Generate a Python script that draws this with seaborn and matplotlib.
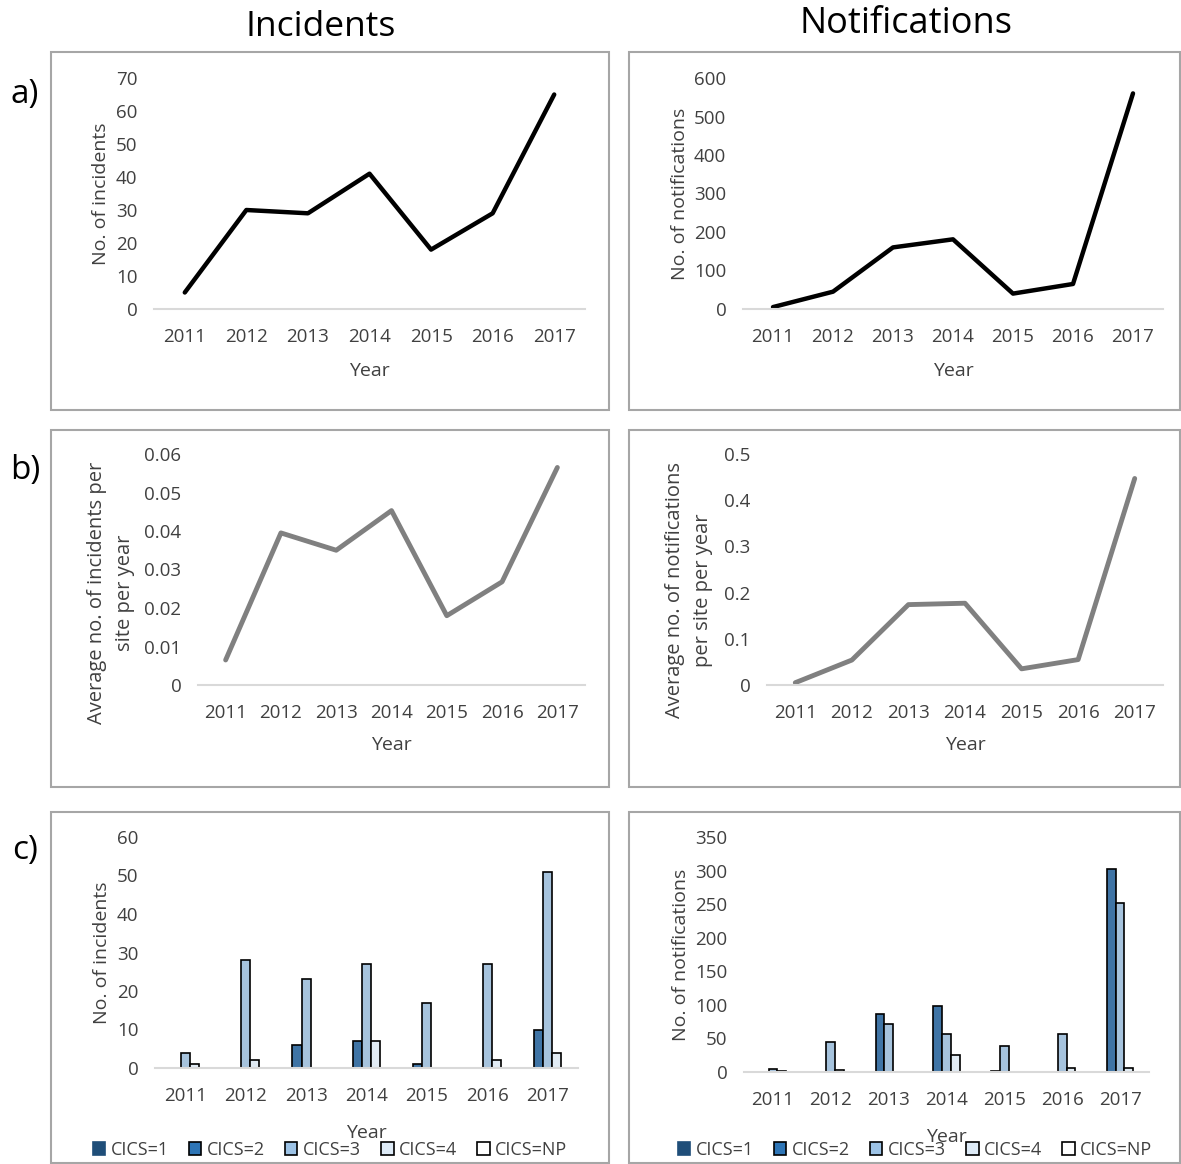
import numpy as np
import pandas as pd
import matplotlib
matplotlib.use('Agg')
import matplotlib.pyplot as plt
from matplotlib.patches import Rectangle, Patch
from matplotlib.ticker import FuncFormatter
import seaborn as sns

# Data
years = ['2011', '2012', '2013', '2014', '2015', '2016', '2017']

incidents = [5, 30, 29, 41, 18, 29, 65]
notifications = [5, 45, 160, 181, 40, 65, 560]

avg_incidents = [0.0065, 0.0395, 0.035, 0.0453, 0.018, 0.0268, 0.0565]
avg_notifications = [0.005, 0.054, 0.174, 0.177, 0.035, 0.055, 0.447]

cics_levels = ['CICS=1', 'CICS=2', 'CICS=3', 'CICS=4', 'CICS=NP']
inc_cics1 = [0, 0, 0, 0, 0, 0, 0]
inc_cics2 = [0, 0, 6, 7, 1, 0, 10]
inc_cics3 = [4, 28, 23, 27, 17, 27, 51]
inc_cics4 = [1, 2, 0, 7, 0, 2, 4]
inc_cicsnp = [0, 0, 0, 0, 0, 0, 0]

not_cics1 = [0, 0, 0, 0, 0, 0, 0]
not_cics2 = [0, 0, 87, 99, 1, 0, 303]
not_cics3 = [5, 44, 72, 57, 39, 57, 252]
not_cics4 = [2, 3, 0, 26, 0, 6, 6]
not_cicsnp = [0, 0, 0, 0, 0, 0, 0]

cics_colors = ['#1F4E79', '#2E75B6', '#9DC3E6', '#DEEBF7', '#FFFFFF']

TXT = '#404040'

sns.set_theme(style='white')
plt.rcParams['font.family'] = ['Open Sans', 'DejaVu Sans']

fig = plt.figure(figsize=(11.81, 11.64), dpi=100)
W, H = 1181, 1164


def px_axes(x0, x1, ytop, ybot):
    return fig.add_axes([x0 / W, 1 - ybot / H, (x1 - x0) / W, (ybot - ytop) / H])


def fmt(v, pos):
    return f'{v:g}'


def style_axis(ax, ylim, step, ylabel, xpad=14, lpad=11, ylsize=14):
    ax.set_xlim(-0.5, 6.5)
    ax.set_ylim(*ylim)
    ax.set_yticks(np.arange(ylim[0], ylim[1] + step / 2, step))
    ax.yaxis.set_major_formatter(FuncFormatter(fmt))
    for s in ['top', 'right', 'left']:
        ax.spines[s].set_visible(False)
    ax.spines['bottom'].set_color('#d9d9d9')
    ax.spines['bottom'].set_linewidth(1.5)
    ax.tick_params(axis='both', length=0, labelsize=13.5, colors=TXT)
    ax.tick_params(axis='x', pad=xpad)
    ax.tick_params(axis='y', pad=12)
    ax.set_ylabel(ylabel, fontsize=ylsize, color=TXT, linespacing=1.5)
    ax.set_xlabel('Year', fontsize=14, color=TXT, labelpad=lpad)
    ax.set_facecolor('none')


line_df = pd.DataFrame({'Year': years, 'incidents': incidents,
                        'notifications': notifications,
                        'avg_inc': avg_incidents, 'avg_not': avg_notifications})

# panel frames
for (x0, x1) in [(51, 609), (629, 1180)]:
    for (y0, y1) in [(52, 410), (430, 787), (812, 1163)]:
        fig.patches.append(Rectangle((x0 / W, 1 - y1 / H), (x1 - x0) / W, (y1 - y0) / H,
                                     transform=fig.transFigure, fill=False,
                                     edgecolor='#a6a6a6', lw=1.5))

# a) totals
ax = px_axes(154, 585, 78, 309)
sns.lineplot(data=line_df, x='Year', y='incidents', color='black', lw=3.2, ax=ax)
style_axis(ax, (0, 70), 10, 'No. of incidents')

ax = px_axes(743, 1163, 78, 309)
sns.lineplot(data=line_df, x='Year', y='notifications', color='black', lw=3.2, ax=ax)
style_axis(ax, (0, 600), 100, 'No. of notifications')

# b) averages
ax = px_axes(198, 585, 454, 685)
sns.lineplot(data=line_df, x='Year', y='avg_inc', color='#808080', lw=3.5, ax=ax)
style_axis(ax, (0, 0.06), 0.01, 'Average no. of incidents per\nsite per year',
           xpad=13.5, lpad=10, ylsize=14.5)
ax.yaxis.set_label_coords(-0.163, 0.40)

ax = px_axes(767, 1163, 454, 685)
sns.lineplot(data=line_df, x='Year', y='avg_not', color='#808080', lw=3.5, ax=ax)
style_axis(ax, (0, 0.5), 0.1, 'Average no. of notifications\nper site per year',
           xpad=13.5, lpad=10, ylsize=14.5)
ax.yaxis.set_label_coords(-0.137, 0.41)


# c) by CICS
def long_df(series):
    rows = []
    for lvl, vals in zip(cics_levels, series):
        for y, v in zip(years, vals):
            rows.append({'Year': y, 'CICS': lvl, 'value': v})
    return pd.DataFrame(rows)


inc_df = long_df([inc_cics1, inc_cics2, inc_cics3, inc_cics4, inc_cicsnp])
not_df = long_df([not_cics1, not_cics2, not_cics3, not_cics4, not_cicsnp])

handles = [Patch(facecolor=c, edgecolor='black' if i else c, lw=1.2, label=l)
           for i, (c, l) in enumerate(zip(cics_colors, cics_levels))]

for df, box, ylim, step, ylab, legx in [
        (inc_df, (155, 578, 837, 1068), (0, 60), 10, 'No. of incidents', 330),
        (not_df, (744, 1149, 837, 1072), (0, 350), 50, 'No. of notifications', 915)]:
    ax = px_axes(*box)
    sns.barplot(data=df, x='Year', y='value', hue='CICS', hue_order=cics_levels,
                palette=cics_colors, width=0.75, edgecolor='black', linewidth=1.2,
                legend=False, ax=ax)
    # hide outlines of zero-height bars
    for p in ax.patches:
        if p.get_height() == 0:
            p.set_visible(False)
    style_axis(ax, ylim, step, ylab, xpad=14, lpad=13)
    fig.legend(handles=handles, loc='center', bbox_to_anchor=(legx / W, 1 - 1150 / H),
               ncol=5, frameon=False, fontsize=13, handlelength=0.7, handleheight=0.7,
               handletextpad=0.3, columnspacing=1.1, labelcolor=TXT)

# column titles and row labels
fig.text(321 / W, 1 - 27 / H, 'Incidents', ha='center', va='center', fontsize=25.5, color='black')
fig.text(906 / W, 1 - 24 / H, 'Notifications', ha='center', va='center', fontsize=26, color='black')
for lab, yy in [('a)', 95), ('b)', 470), ('c)', 850)]:
    fig.text(25 / W, 1 - yy / H, lab, ha='center', va='center', fontsize=24, color='black')

fig.savefig('out.png', dpi=100)
